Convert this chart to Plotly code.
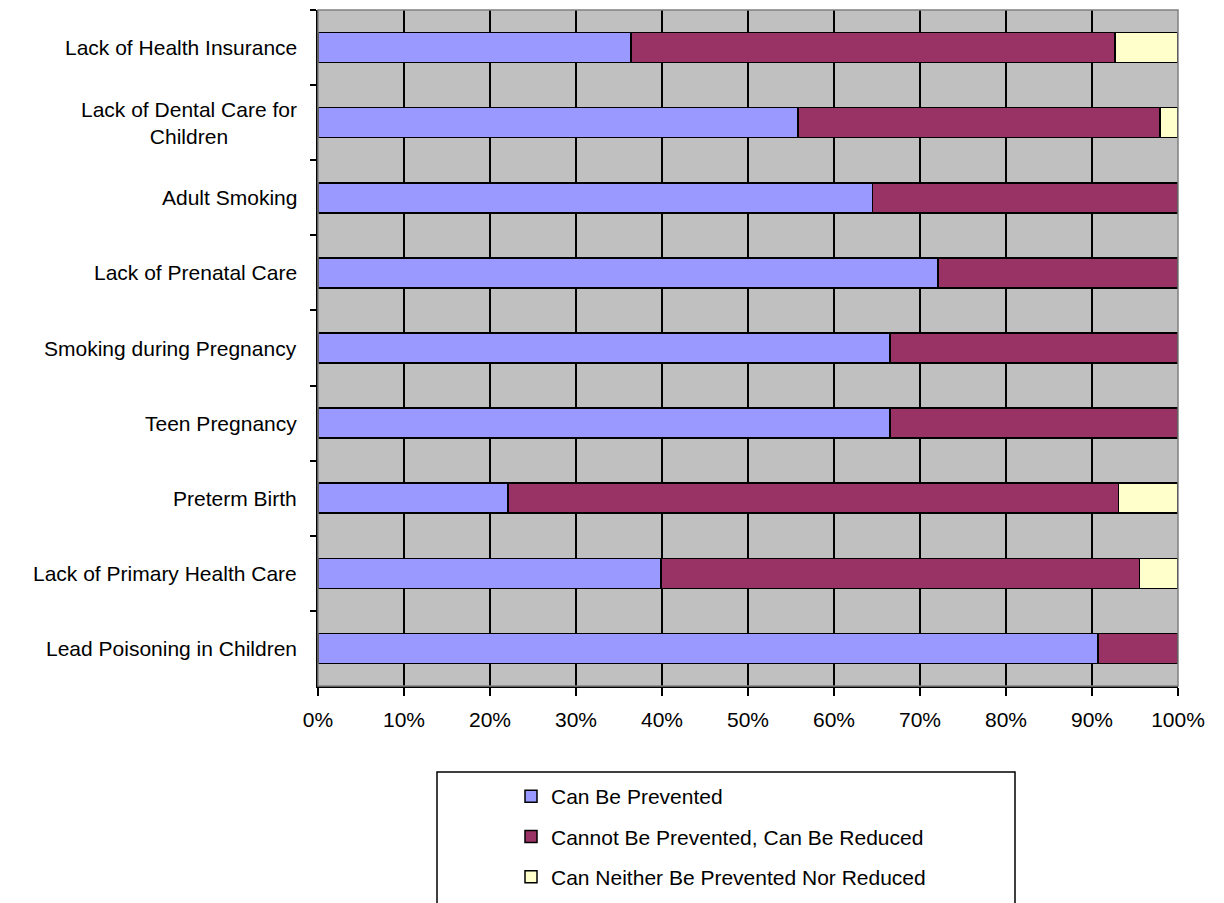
import plotly.graph_objects as go

categories = [
    "Lack of Health Insurance",
    "Lack of Dental Care for<br>Children",
    "Adult Smoking",
    "Lack of Prenatal Care",
    "Smoking during Pregnancy",
    "Teen Pregnancy",
    "Preterm Birth",
    "Lack of Primary Health Care",
    "Lead Poisoning in Children",
]
can_be_prevented = [36.4, 55.8, 64.5, 72.1, 66.5, 66.5, 22.1, 39.9, 90.7]
can_be_reduced = [56.3, 42.1, 35.5, 27.9, 33.5, 33.5, 71.0, 55.6, 9.3]
neither = [7.3, 2.1, 0.0, 0.0, 0.0, 0.0, 6.9, 4.5, 0.0]
series_names = [
    "Can Be Prevented",
    "Cannot Be Prevented, Can Be Reduced",
    "Can Neither Be Prevented Nor Reduced",
]
series_colors = ["#9999FF", "#993366", "#FFFFCC"]
x_ticks = [0, 10, 20, 30, 40, 50, 60, 70, 80, 90, 100]
x_tick_labels = ["0%", "10%", "20%", "30%", "40%", "50%", "60%", "70%", "80%", "90%", "100%"]

FONT = "Liberation Sans, Arial, sans-serif"
OFF = 8  # page body margin
W, H = 1224 - OFF, 903 - OFF
L, R, T, B = 318 - OFF, 1178 - OFF, 10 - OFF, 686 - OFF
PW, PH = R - L, B - T

fig = go.Figure()
for i, (name, vals, col) in enumerate(zip(series_names,
                                          [can_be_prevented, can_be_reduced, neither],
                                          series_colors)):
    fig.add_trace(go.Bar(
        y=categories, x=vals, name=name, orientation="h",
        marker=dict(color=col, line=dict(color="black", width=1.5)),
        legendgroup=str(i),
    ))

# category labels as annotations (centered multi-line like the original)
for c in categories:
    fig.add_annotation(
        x=-19 / PW, xref="paper", y=c, yref="y",
        text=c, showarrow=False, xanchor="right", yanchor="middle",
        align="center", font=dict(family=FONT, size=21, color="black"),
    )

# plot frame (gray top / right)
fig.add_shape(type="rect", xref="paper", yref="paper", x0=0, x1=1, y0=0, y1=1,
              line=dict(color="#808080", width=1.5), layer="above")
# legend box
fig.add_shape(type="rect", xref="paper", yref="paper",
              x0=(437 - OFF - L) / PW, x1=(1015 - OFF - L) / PW,
              y0=(B - (772 - OFF)) / PH, y1=(B - (920 - OFF)) / PH,
              line=dict(color="black", width=1.5), fillcolor="white", layer="below")

fig.update_layout(
    width=W, height=H,
    barmode="stack", bargap=0.6,
    plot_bgcolor="#C0C0C0", paper_bgcolor="white",
    margin=dict(l=L, r=W - R, t=T, b=H - B, pad=0, autoexpand=False),
    font=dict(family=FONT, size=21, color="black"),
    xaxis=dict(
        range=[0, 100], tickvals=x_ticks, ticktext=x_tick_labels,
        showgrid=True, gridcolor="black", gridwidth=1.5,
        showline=True, linecolor="black", linewidth=2,
        ticks="outside", ticklen=8, tickcolor="black", tickwidth=2,
        ticklabelstandoff=6,
        tickfont=dict(family=FONT, size=21), zeroline=False, fixedrange=True,
    ),
    yaxis=dict(
        categoryorder="array", categoryarray=categories, autorange="reversed",
        showticklabels=False, tickson="boundaries", ticks="outside",
        ticklen=6, tickcolor="black", tickwidth=2,
        showline=True, linecolor="black", linewidth=2,
        showgrid=False, zeroline=False,
    ),
    legend=dict(
        x=(511 - OFF - L) / PW, xanchor="left",
        y=(B - (776 - OFF)) / PH, yanchor="top",
        bgcolor="rgba(0,0,0,0)", borderwidth=0,
        font=dict(family=FONT, size=21),
        tracegroupgap=10, traceorder="grouped",
    ),
    showlegend=True,
)

fig.write_html("out.html")
